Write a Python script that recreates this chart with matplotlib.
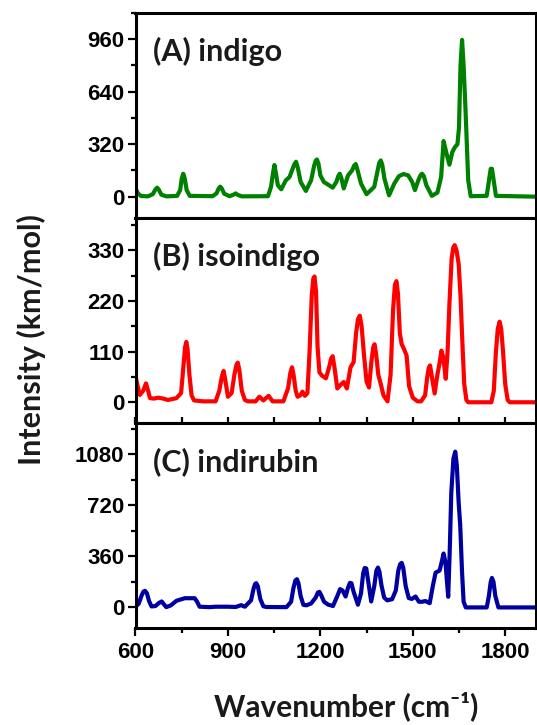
import matplotlib
matplotlib.use('Agg')
import matplotlib.pyplot as plt
from matplotlib.ticker import MultipleLocator

# ---------------- data ----------------
# (wavenumber cm^-1, intensity km/mol) points
indigo_points = [
    (600, 50), (608, 20), (618, 4), (640, 2), (656, 15), (665, 45), (670, 55), (675, 45), (684, 12),
    (700, 2), (735, 5), (745, 40), (750, 110), (755, 140), (760, 110), (766, 40), (776, 5),
    (850, 3), (863, 20), (870, 50), (875, 61), (880, 50), (888, 18), (905, 3), (918, 12), (925, 20),
    (933, 10), (945, 2), (1030, 3), (1040, 60), (1046, 140), (1051, 193), (1056, 140), (1062, 70),
    (1073, 45), (1088, 100), (1100, 120), (1108, 160), (1115, 195), (1121, 213), (1127, 175),
    (1136, 90), (1153, 35), (1170, 100), (1180, 190), (1185, 220), (1189, 227), (1194, 200),
    (1200, 130), (1212, 88), (1220, 80), (1240, 55), (1252, 90), (1258, 125), (1263, 140),
    (1268, 115), (1276, 50), (1290, 130), (1303, 160), (1310, 190), (1315, 199), (1321, 160),
    (1332, 80), (1350, 15), (1375, 60), (1386, 160), (1391, 205), (1396, 221), (1401, 195),
    (1408, 110), (1423, 8), (1440, 80), (1455, 125), (1470, 138), (1485, 130), (1498, 90),
    (1507, 40), (1518, 100), (1525, 130), (1530, 140), (1536, 125), (1544, 70), (1562, 5),
    (1580, 25), (1592, 120), (1600, 339), (1610, 260), (1619, 195), (1628, 270), (1636, 300),
    (1645, 320), (1650, 420), (1655, 800), (1660, 956), (1665, 800), (1671, 540), (1680, 100),
    (1688, 3), (1740, 5), (1749, 120), (1753, 170), (1757, 170), (1761, 120), (1770, 5), (1900, 0),
]
isoindigo_points = [
    (600, 57), (607, 35), (614, 16), (625, 25), (634, 41), (641, 25), (647, 9), (660, 8), (674, 10),
    (690, 8), (705, 5), (720, 7), (733, 9), (748, 20), (756, 80), (761, 120), (765, 131), (769, 115),
    (775, 60), (782, 15), (790, 4), (820, 2), (860, 2), (872, 25), (880, 55), (886, 68), (891, 50),
    (900, 12), (912, 20), (921, 60), (928, 82), (932, 86), (937, 70), (945, 25), (955, 5), (965, 2),
    (990, 2), (1002, 12), (1015, 4), (1032, 14), (1045, 2), (1080, 2), (1095, 30), (1103, 65),
    (1108, 76), (1113, 60), (1120, 25), (1126, 12), (1135, 15), (1142, 23), (1150, 14), (1158, 20),
    (1165, 110), (1172, 230), (1177, 268), (1181, 273), (1186, 240), (1191, 120), (1197, 65),
    (1205, 58), (1218, 52), (1228, 75), (1235, 95), (1240, 100), (1246, 75), (1255, 30), (1266, 38),
    (1276, 44), (1286, 30), (1298, 76), (1308, 87), (1316, 150), (1322, 180), (1328, 188),
    (1334, 165), (1342, 100), (1350, 45), (1358, 32), (1366, 90), (1372, 120), (1376, 126),
    (1381, 105), (1388, 60), (1396, 40), (1405, 15), (1418, 2), (1428, 60), (1436, 200), (1442, 255),
    (1447, 263), (1452, 235), (1458, 150), (1464, 126), (1472, 115), (1480, 101), (1488, 35),
    (1500, 10), (1515, 2), (1527, 2), (1540, 15), (1547, 55), (1552, 75), (1556, 80), (1561, 60),
    (1571, 19), (1580, 60), (1587, 85), (1593, 112), (1598, 100), (1603, 75), (1607, 51), (1613, 110),
    (1619, 214), (1626, 310), (1631, 335), (1636, 341), (1642, 330), (1649, 300), (1655, 230),
    (1661, 130), (1667, 40), (1674, 5), (1680, 0), (1755, 0), (1763, 25), (1770, 110), (1776, 160),
    (1782, 175), (1787, 160), (1793, 110), (1800, 40), (1808, 5), (1815, 0), (1900, 0),
]
indirubin_points = [
    (600, 5), (610, 25), (620, 85), (626, 112), (631, 117), (637, 100), (644, 45), (652, 7), (665, 10),
    (675, 30), (685, 42), (693, 20), (700, 2), (715, 15), (733, 47), (745, 55), (760, 65), (775, 65),
    (792, 65), (800, 40), (808, 5), (840, 2), (860, 5), (900, 5), (925, 3), (943, 16), (955, 5),
    (975, 50), (983, 130), (988, 165), (992, 171), (997, 150), (1005, 60), (1015, 8), (1025, 3),
    (1090, 2), (1105, 40), (1113, 140), (1119, 190), (1124, 199), (1129, 170), (1136, 80), (1145, 18),
    (1155, 15), (1170, 28), (1185, 70), (1192, 105), (1197, 110), (1203, 85), (1212, 40), (1225, 20),
    (1241, 10), (1255, 80), (1264, 129), (1272, 120), (1282, 77), (1290, 140), (1296, 173),
    (1301, 170), (1308, 110), (1322, 19), (1332, 100), (1339, 240), (1344, 278), (1349, 275),
    (1355, 190), (1365, 42), (1375, 150), (1382, 260), (1387, 281), (1392, 250), (1398, 160),
    (1407, 70), (1417, 50), (1433, 58), (1445, 120), (1453, 260), (1459, 305), (1464, 314),
    (1469, 280), (1477, 150), (1487, 66), (1497, 60), (1509, 77), (1520, 40), (1530, 40), (1541, 45),
    (1555, 30), (1565, 150), (1574, 245), (1587, 260), (1595, 330), (1600, 380), (1606, 320),
    (1615, 75), (1620, 400), (1625, 807), (1632, 1050), (1638, 1098), (1643, 1000), (1649, 737),
    (1654, 580), (1660, 246), (1665, 40), (1672, 0), (1740, 0), (1747, 80), (1753, 180), (1757, 208),
    (1762, 180), (1768, 80), (1778, 0), (1900, 0),
]

panel_labels = ['(A) indigo', '(B) isoindigo', '(C) indirubin']
series = [indigo_points, isoindigo_points, indirubin_points]
y_major_steps = [320, 110, 360]
y_limits = [(-130, 1120), (-45, 400), (-145, 1300)]
x_tick_values = [600, 900, 1200, 1500, 1800]
x_limits = (600, 1900)
colors = ['#008000', '#ff0000', '#0000a0']

# ---------------- figure ----------------
W, H = 537, 725
fig = plt.figure(figsize=(W / 100, H / 100), dpi=100)

left_px, right_px, top_px, bottom_px = 135.5, 536.0, 13.0, 628.0
L = left_px / W
R = right_px / W
T = 1 - top_px / H
B = 1 - bottom_px / H
h = (T - B) / 3

tick_font = {'family': 'Liberation Sans', 'weight': 'bold', 'size': 16}
label_family = ['Lato', 'DejaVu Sans']

for i in range(3):
    ax = fig.add_axes([L, T - (i + 1) * h, R - L, h])
    xs = [p[0] for p in series[i]]
    ys = [p[1] for p in series[i]]
    ax.plot(xs, ys, color=colors[i], lw=3.0, solid_joinstyle='round')
    ax.set_xlim(*x_limits)
    ax.set_ylim(*y_limits[i])
    for sp in ax.spines.values():
        sp.set_linewidth(2.2)
    ax.yaxis.set_major_locator(MultipleLocator(y_major_steps[i]))
    ax.yaxis.set_minor_locator(MultipleLocator(y_major_steps[i] / 2))
    ax.set_xticks(x_tick_values)
    ax.xaxis.set_minor_locator(MultipleLocator(150))
    ax.tick_params(axis='y', which='major', direction='out', length=6, width=1.6, pad=2)
    ax.tick_params(axis='y', which='minor', direction='out', length=3.5, width=1.6)
    for lab in ax.get_yticklabels():
        lab.set_fontproperties(tick_font)
    if i == 0:
        ax.tick_params(axis='x', which='both', length=0, labelbottom=False)
    elif i == 1:
        ax.tick_params(axis='x', which='both', direction='in', length=4, width=1.6,
                       labelbottom=False)
    else:
        ax.tick_params(axis='x', which='major', direction='out', length=6, width=1.6, pad=4)
        ax.tick_params(axis='x', which='minor', direction='out', length=3.5, width=1.6)
        for lab in ax.get_xticklabels():
            lab.set_fontproperties(tick_font)
    ax.text((153 - left_px) / (right_px - left_px), 1 - 48 / 205, panel_labels[i],
            transform=ax.transAxes, ha='left', va='baseline',
            family=label_family, weight='bold', fontsize=22, color='#1a1a1a')

fig.text(31 / W, 1 - 340 / H, 'Intensity (km/mol)', rotation=90, ha='center', va='center',
         family=label_family, weight='bold', fontsize=22, color='#1a1a1a')
fig.text(346.5 / W, 1 - 716 / H, 'Wavenumber (cm\u207b\u00b9)', ha='center', va='baseline',
         family=label_family, weight='bold', fontsize=21.5, color='#1a1a1a')

fig.savefig('out.png', dpi=100)
